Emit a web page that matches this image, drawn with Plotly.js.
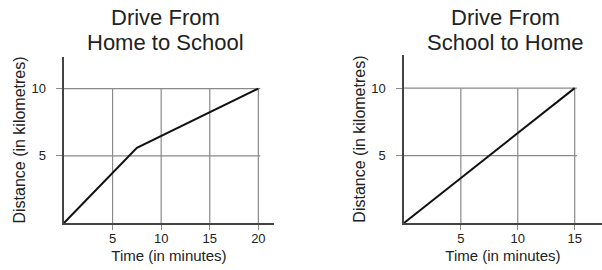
<!DOCTYPE html>
<html>
<head>
<meta charset="utf-8">
<script src="https://cdn.plot.ly/plotly-3.0.1.min.js"></script>
<style>html,body{margin:0;padding:0;background:#fff}#chart{width:602px;height:270px}</style>
</head>
<body>
<div id="chart"></div>
<script>
// Data
const homeToSchoolTime = [0, 7.5, 20];
const homeToSchoolDist = [0, 5.6, 10];
const schoolToHomeTime = [0, 15];
const schoolToHomeDist = [0, 10];
const leftXTicks = [5, 10, 15, 20];
const rightXTicks = [5, 10, 15];
const yTicks = [5, 10];
const titleLine1 = ["Drive From", "Drive From"];
const titleLine2 = ["Home to School", "School to Home"];
const xTitle = "Time (in minutes)";
const yTitle = "Distance (in kilometres)";

const FONT = "Liberation Sans, Arial, Helvetica, sans-serif";
const gridColor = "#8a8a8a";
const axisColor = "#444";
const textColor = "#222";

function gridShapes(xref, yref, xt, yt, xmax, ymax) {
  const s = [];
  yt.forEach(v => s.push({type:'line', xref, yref, x0:0, x1:xmax, y0:v, y1:v, line:{color:gridColor, width:1.2}, layer:'below'}));
  xt.forEach(v => s.push({type:'line', xref, yref, x0:v, x1:v, y0:0, y1:ymax, line:{color:gridColor, width:1.2}, layer:'below'}));
  return s;
}

const traces = [
  {x: homeToSchoolTime, y: homeToSchoolDist, type:'scatter', mode:'lines', xaxis:'x', yaxis:'y', line:{color:'#111', width:2}, hoverinfo:'skip'},
  {x: schoolToHomeTime, y: schoolToHomeDist, type:'scatter', mode:'lines', xaxis:'x2', yaxis:'y2', line:{color:'#111', width:2}, hoverinfo:'skip'}
];

function xAxis(domain, range, ticks, anchor) {
  return {domain, range, tickvals: ticks, ticktext: ticks.map(String), showgrid:false, zeroline:false,
    showline:true, linecolor:axisColor, linewidth:1.5, ticks:'outside', ticklen:5, tickcolor:gridColor, tickwidth:1.2,
    ticklabelstandoff:-2,
    tickfont:{family:FONT, size:13, color:textColor}, anchor, fixedrange:true,
    title:{text:xTitle, font:{family:FONT, size:15, color:textColor}, standoff:5}};
}
function yAxis(domain, range, ticks, anchor) {
  return {domain, range, tickvals: ticks, ticktext: ticks.map(String), showgrid:false, zeroline:false,
    showline:true, linecolor:axisColor, linewidth:1.5, ticks:'outside', ticklen:6, tickcolor:gridColor, tickwidth:1.2,
    ticklabelstandoff:8,
    tickfont:{family:FONT, size:13, color:textColor}, anchor, fixedrange:true,
    title:{text:yTitle, font:{family:FONT, size:16, color:textColor}, standoff:2}};
}

const tFont = {family:FONT, size:22, color:textColor};
const layout = {
  width:602, height:270,
  margin:{l:0, r:0, t:0, b:0},
  paper_bgcolor:'#fff', plot_bgcolor:'#fff',
  showlegend:false,
  xaxis: xAxis([0.1063, 0.455], [0, 21.6], leftXTicks, 'y'),
  yaxis: yAxis([0.174, 0.789], [0, 12.35], yTicks, 'x'),
  xaxis2: xAxis([0.671, 1.0], [0, 17.4], rightXTicks, 'y2'),
  yaxis2: yAxis([0.174, 0.796], [0, 12.45], yTicks, 'x2'),
  shapes: gridShapes('x','y',leftXTicks,yTicks,20.2,10).concat(gridShapes('x2','y2',rightXTicks,yTicks,15.2,10)),
  annotations: [
    {text: titleLine1[0], xref:'paper', yref:'paper', x:165/602, y:1-18/270, xanchor:'center', yanchor:'middle', showarrow:false, font:tFont},
    {text: titleLine2[0], xref:'paper', yref:'paper', x:165/602, y:1-43/270, xanchor:'center', yanchor:'middle', showarrow:false, font:tFont},
    {text: titleLine1[1], xref:'paper', yref:'paper', x:505/602, y:1-18/270, xanchor:'center', yanchor:'middle', showarrow:false, font:tFont},
    {text: titleLine2[1], xref:'paper', yref:'paper', x:505/602, y:1-43/270, xanchor:'center', yanchor:'middle', showarrow:false, font:tFont}
  ]
};

Plotly.newPlot('chart', traces, layout, {staticPlot:true, displayModeBar:false});
</script>
</body>
</html>
